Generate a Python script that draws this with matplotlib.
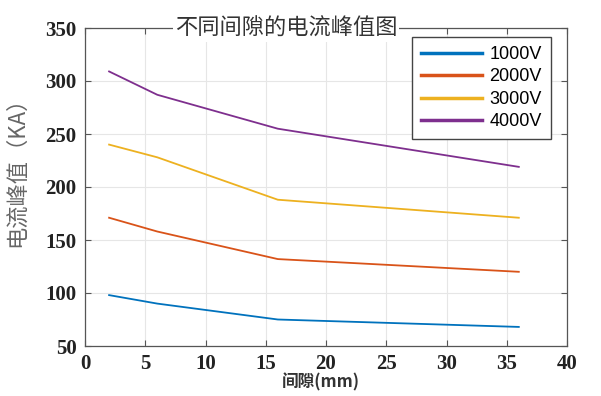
import matplotlib
matplotlib.use("Agg")
import matplotlib.pyplot as plt

gap_mm = [2, 6, 16, 36]
v1000 = [98, 90, 75, 68]
v2000 = [171, 158, 132, 120]
v3000 = [240, 228, 188, 171]
v4000 = [309, 287, 255, 219]
series_labels = ["1000V", "2000V", "3000V", "4000V"]
colors = ["#0072BD", "#D95319", "#EDB120", "#7E2F8E"]
x_ticks = [0, 5, 10, 15, 20, 25, 30, 35, 40]
y_ticks = [50, 100, 150, 200, 250, 300, 350]

fig = plt.figure(figsize=(6.01, 3.96), dpi=100)
ax = fig.add_axes([85/601, 1 - 346/396, 482/601, 318/396])

for vals, lab, c in zip([v1000, v2000, v3000, v4000], series_labels, colors):
    ax.plot(gap_mm, vals, color=c, lw=1.3, label=lab)

ax.set_xlim(0, 40)
ax.set_ylim(50, 350)
ax.set_xticks(x_ticks)
ax.set_yticks(y_ticks)
ax.grid(True, color="#e6e6e6", lw=0.8)
ax.set_axisbelow(True)
for s in ax.spines.values():
    s.set_color("#555555")
    s.set_linewidth(0.9)
ax.tick_params(direction="in", top=True, right=True, length=4, color="#555555", pad=6)
for lbl in ax.get_xticklabels() + ax.get_yticklabels():
    lbl.set_fontfamily("Liberation Serif")
    lbl.set_fontweight("bold")
    lbl.set_fontsize(15)
    lbl.set_color("#222222")

cjk = ["Noto Sans CJK SC", "DejaVu Sans"]
ax.text(286/601 , 1 - 28/396, "不同间隙的电流峰值图", transform=fig.transFigure,
        ha="center", va="center", fontsize=16, family=cjk, color="#333333",
        bbox=dict(facecolor="white", edgecolor="none", pad=1.5), zorder=10)
fig.text(321/601, 1 - 382/396, "间隙(mm)", ha="center", va="center", fontsize=12,
         family=cjk, fontweight="bold", color="#333333")
fig.text(16/601, 1 - 166/396, "电流峰值（KA）", ha="center", va="center", rotation=90,
         fontsize=16, family=cjk, color="#666666")

leg = ax.legend(loc="upper right", bbox_to_anchor=(551/601, 1 - 37/396),
                bbox_transform=fig.transFigure, prop={"family": "Liberation Sans", "size": 13},
                handlelength=3.4, handletextpad=0.4, labelspacing=0.3, borderpad=0.5,
                fancybox=False, framealpha=1, edgecolor="#444444", borderaxespad=0)
for h in leg.get_lines():
    h.set_linewidth(2.5)
leg.get_frame().set_linewidth(1.0)

fig.savefig("out.png", dpi=100)
